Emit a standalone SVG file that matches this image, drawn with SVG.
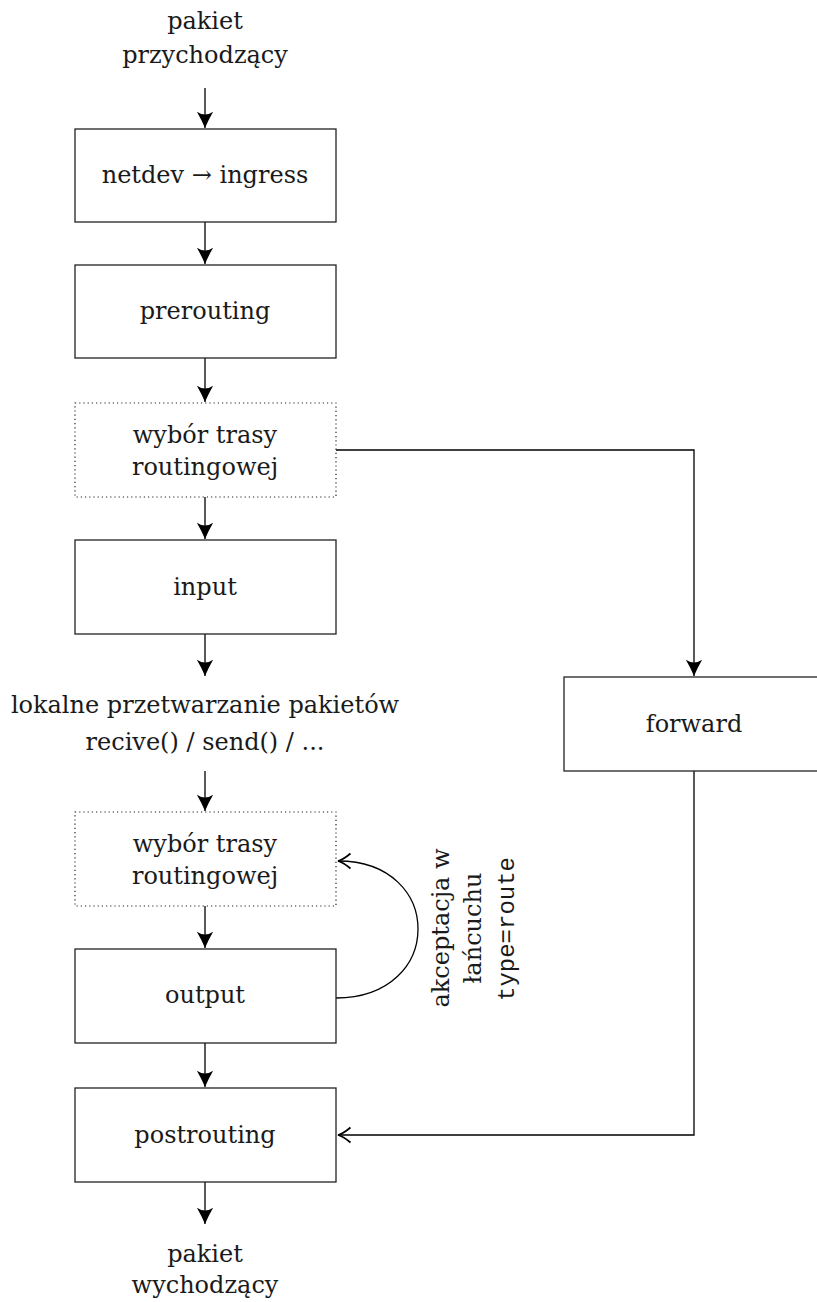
<svg xmlns="http://www.w3.org/2000/svg" width="817" height="1302" viewBox="0 0 817 1302">
<style>
.t{font-family:"DejaVu Serif","Liberation Serif",serif;font-size:24px;fill:#1a1a1a;text-anchor:middle}
.m{font-family:"Liberation Mono","DejaVu Sans Mono",monospace;font-size:24px;fill:#1a1a1a;text-anchor:middle}
.b{fill:#fff;stroke:#222;stroke-width:1.3}
.d{fill:#fff;stroke:#222;stroke-width:1.2;stroke-dasharray:1.2 3}
.c{fill:none;stroke:#000;stroke-width:1.3}
</style>
<defs>
<marker id="st" markerUnits="userSpaceOnUse" markerWidth="20" markerHeight="20" viewBox="-14 -8 16 16" refX="0" refY="0" orient="auto">
<path d="M0,0 Q-6,-2.5 -13,-6.5 Q-8.5,0 -13,6.5 Q-6,2.5 0,0 Z" fill="#000"/>
</marker>
<marker id="op" markerUnits="userSpaceOnUse" markerWidth="20" markerHeight="20" viewBox="-14 -8 16 16" refX="0" refY="0" orient="auto">
<path d="M-10,-6 Q-4,-1 0,0 Q-4,1 -10,6" fill="none" stroke="#000" stroke-width="1.4"/>
</marker>
</defs>
<g id="connectors">
<path class="c" d="M205,88 V128" marker-end="url(#st)"/>
<path class="c" d="M205,222 V264" marker-end="url(#st)"/>
<path class="c" d="M205,358 V402" marker-end="url(#st)"/>
<path class="c" d="M205,497 V539" marker-end="url(#st)"/>
<path class="c" d="M205,634 V676" marker-end="url(#st)"/>
<path class="c" d="M205,771 V811" marker-end="url(#st)"/>
<path class="c" d="M205,906 V948" marker-end="url(#st)"/>
<path class="c" d="M205,1043 V1087" marker-end="url(#st)"/>
<path class="c" d="M205,1182 V1224" marker-end="url(#st)"/>
<path class="c" d="M336,450 H694 V676" marker-end="url(#st)"/>
<path class="c" d="M694,771 V1135 H338" marker-end="url(#op)"/>
<path class="c" d="M336,998 C445,998 445,861 338,861" marker-end="url(#op)"/>
</g>
<g id="in-label">
<text class="t" x="205" y="29">pakiet</text>
<text class="t" x="205" y="63">przychodzący</text>
</g>
<g id="ingress">
<rect class="b" x="75" y="129" width="261" height="93"/>
<text class="t" x="205" y="183">netdev → ingress</text>
</g>
<g id="prerouting">
<rect class="b" x="75" y="265" width="261" height="93"/>
<text class="t" x="205" y="319">prerouting</text>
</g>
<g id="routing1">
<rect class="d" x="75" y="403" width="261" height="94"/>
<text class="t" x="205" y="443">wybór trasy</text>
<text class="t" x="205" y="475">routingowej</text>
</g>
<g id="input">
<rect class="b" x="75" y="540" width="261" height="94"/>
<text class="t" x="205" y="595">input</text>
</g>
<g id="local">
<text class="t" x="205" y="713">lokalne przetwarzanie pakietów</text>
<text class="t" x="205" y="750">recive() / send() / ...</text>
</g>
<g id="forward">
<rect class="b" x="564" y="677" width="261" height="94"/>
<text class="t" x="694" y="732">forward</text>
</g>
<g id="routing2">
<rect class="d" x="75" y="812" width="261" height="94"/>
<text class="t" x="205" y="852">wybór trasy</text>
<text class="t" x="205" y="884">routingowej</text>
</g>
<g id="output">
<rect class="b" x="75" y="949" width="261" height="94"/>
<text class="t" x="205" y="1003">output</text>
</g>
<g id="accept-label">
<text class="t" transform="translate(449,928) rotate(-90)">akceptacja w</text>
<text class="t" transform="translate(481,928) rotate(-90)">łańcuchu</text>
<text class="m" transform="translate(514,929) rotate(-90)">type=route</text>
</g>
<g id="postrouting">
<rect class="b" x="75" y="1088" width="261" height="94"/>
<text class="t" x="205" y="1143">postrouting</text>
</g>
<g id="out-label">
<text class="t" x="205" y="1262">pakiet</text>
<text class="t" x="205" y="1293">wychodzący</text>
</g>
</svg>
